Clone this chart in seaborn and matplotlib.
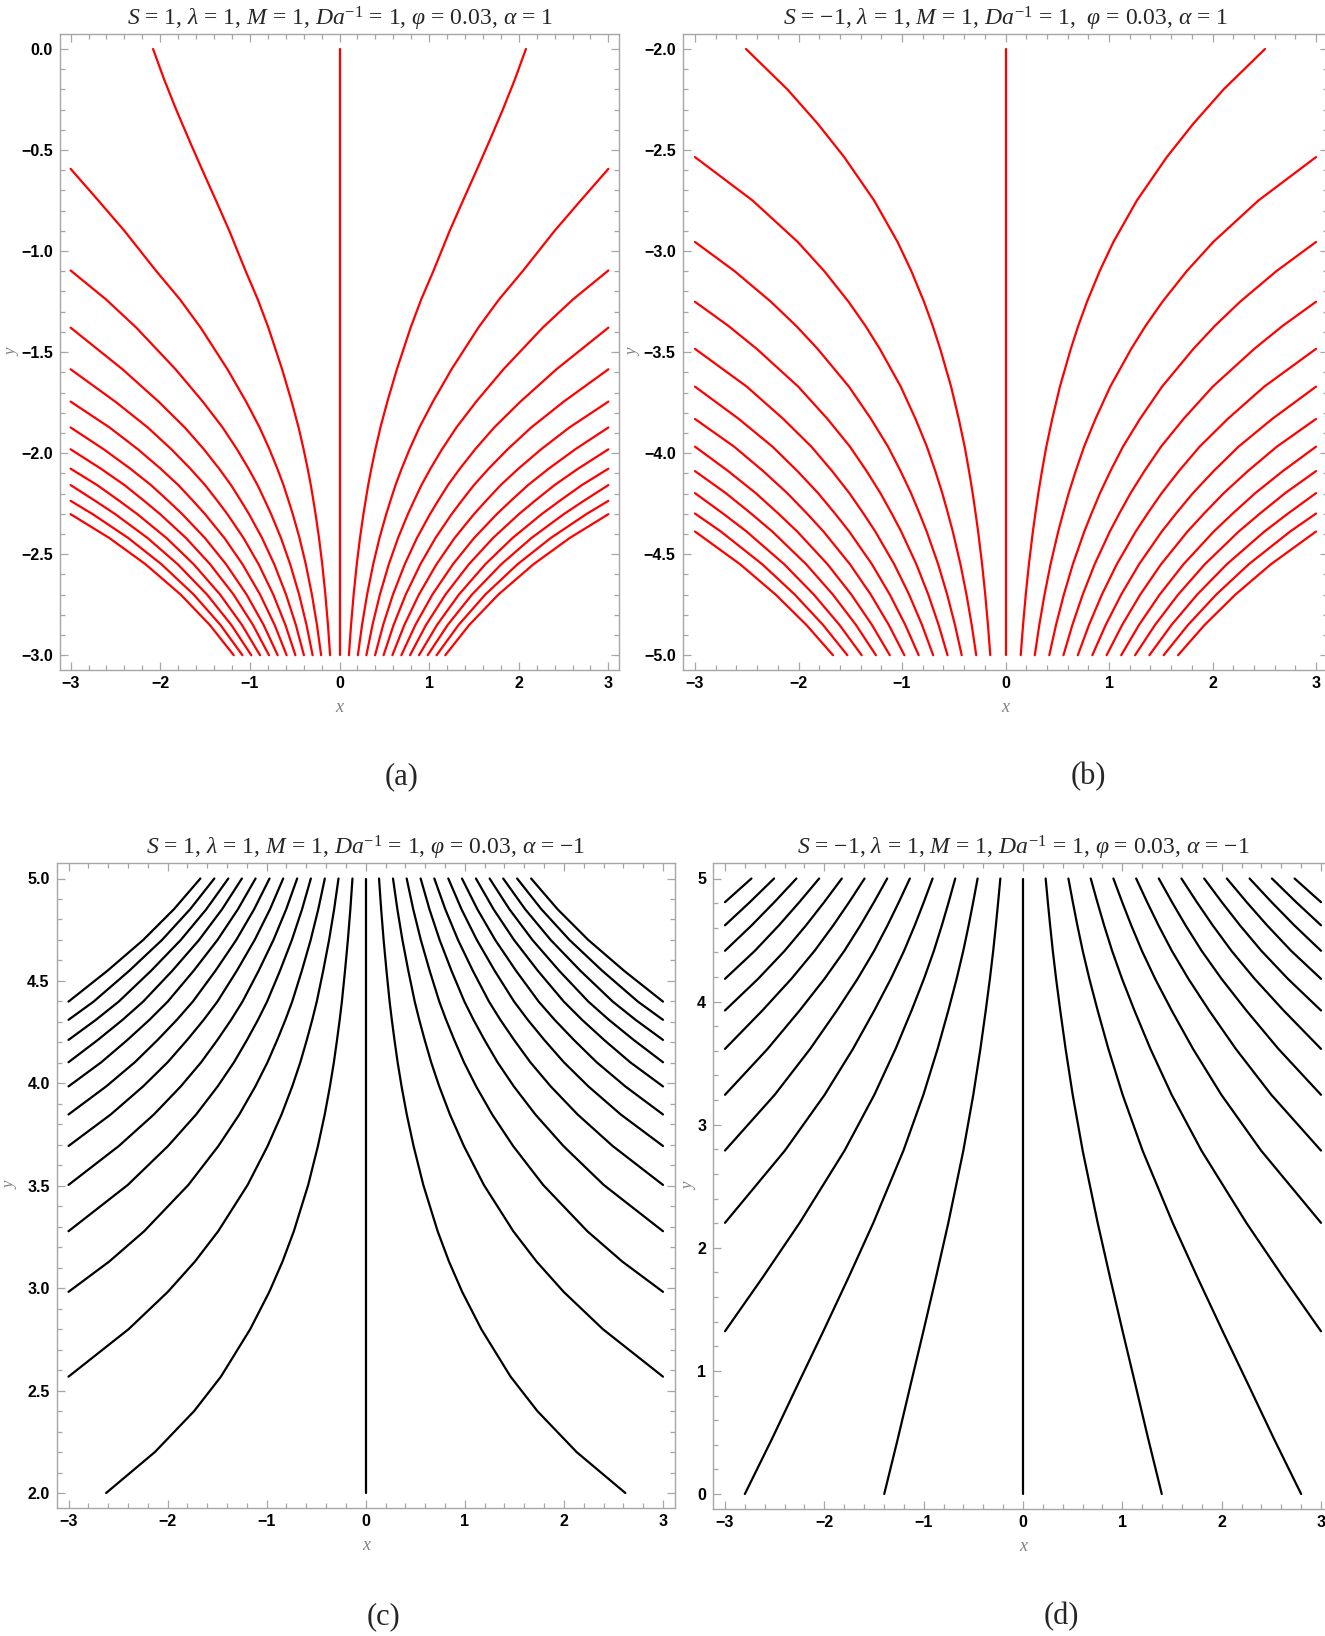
import numpy as np
import pandas as pd
import matplotlib
matplotlib.use("Agg")
import matplotlib.pyplot as plt
import seaborn as sns
from matplotlib.ticker import MultipleLocator, FuncFormatter

# ---------------- data ----------------
# Right-half streamlines; the left half is the mirror image, plus the x = 0 line.
# (a) S=1, alpha=1 : streamlines start at y = -3
A_X0 = [0.105, 0.205, 0.300, 0.397, 0.492, 0.590, 0.690, 0.787, 0.887, 0.984, 1.083, 1.180]
A_END_X = [2.08]            # innermost line reaches y = 0 at this x
A_EXIT_Y = [-0.593, -1.096, -1.379, -1.585, -1.745, -1.873, -1.981, -2.077, -2.158, -2.236, -2.302]
A_INNER_Y = [-0.15, -0.30, -0.45, -0.75, -0.90, -1.24]     # extra points on innermost line
A_INNER_X = [1.957, 1.822, 1.678, 1.378, 1.229, 0.911]
A_OUTER_Y = [-2.85, -2.70, -2.55, -2.42]                   # extra points on outermost line
A_OUTER_X = [1.448, 1.772, 2.164, 2.568]

# (b) S=-1, alpha=1 : streamlines start at y = -5
B_X0 = [0.147, 0.283, 0.423, 0.560, 0.699, 0.839, 0.977, 1.118, 1.252, 1.390, 1.528, 1.667]
B_END_X = [2.507]           # innermost line reaches y = -2 here
B_EXIT_Y = [-2.535, -2.955, -3.251, -3.484, -3.671, -3.831, -3.968, -4.089, -4.198, -4.299, -4.388]
B_INNER_Y = [-2.20, -2.37, -2.75, -3.10, -3.37]
B_INNER_X = [2.107, 1.814, 1.269, 0.909, 0.703]
B_OUTER_Y = [-4.85, -4.70, -4.55]
B_OUTER_X = [1.924, 2.221, 2.564]

# (c) S=1, alpha=-1 : streamlines start at y = 5
C_X0 = [0.134, 0.275, 0.413, 0.554, 0.692, 0.833, 0.971, 1.112, 1.250, 1.387, 1.528, 1.669]
C_END_X = [2.62]            # innermost line reaches y = 2 here
C_EXIT_Y = [2.568, 2.982, 3.278, 3.504, 3.694, 3.848, 3.985, 4.103, 4.212, 4.310, 4.399]
C_INNER_Y = [2.20, 2.40, 2.80, 3.13]
C_INNER_X = [2.128, 1.732, 1.166, 0.840]
C_OUTER_Y = [4.85, 4.70, 4.55]
C_OUTER_X = [1.936, 2.246, 2.606]

# (d) S=-1, alpha=-1 : streamlines start at y = 5
D_X0 = [0.228, 0.457, 0.682, 0.910, 1.139, 1.367, 1.595, 1.824, 2.052, 2.281, 2.506, 2.734]
D_END_X = [1.397, 2.798]    # two innermost lines reach y = 0 here
D_EXIT_Y = [1.322, 2.203, 2.790, 3.243, 3.616, 3.928, 4.185, 4.413, 4.620, 4.808]
D_INNER_Y = [0.45, 0.90, 1.76]
D_INNER_X = [1.260, 1.128, 0.876]
D_OUTER_Y = []
D_OUTER_X = []

TITLES = [
    r"$S$ = 1, $\lambda$ = 1, $M$ = 1, $Da^{\mathit{-1}}$ = 1, $\varphi$ = 0.03, $\alpha$ = 1",
    r"$S$ = −1, $\lambda$ = 1, $M$ = 1, $Da^{\mathit{-1}}$ = 1,  $\varphi$ = 0.03, $\alpha$ = 1",
    r"$S$ = 1, $\lambda$ = 1, $M$ = 1, $Da^{\mathit{-1}}$ = 1, $\varphi$ = 0.03, $\alpha$ = −1",
    r"$S$ = −1, $\lambda$ = 1, $M$ = 1, $Da^{\mathit{-1}}$ = 1, $\varphi$ = 0.03, $\alpha$ = −1",
]
PANEL_LABELS = ["(a)", "(b)", "(c)", "(d)"]
X_TICKS = [-3, -2, -1, 0, 1, 2, 3]


def streamlines(x0, base_y, end_y, end_x, exit_y, inner, outer, x_edge=3.0):
    knots = [(base_y, 1.0), (end_y, end_x[0] / x0[0])]
    n_end = len(end_x)
    for k, ye in enumerate(exit_y):
        knots.append((ye, x_edge / x0[n_end + k]))
    for y, x in zip(*inner):
        knots.append((y, x / x0[0]))
    for y, x in zip(*outer):
        knots.append((y, x / x0[-1]))
    knots.sort(key=lambda t: t[0], reverse=(base_y > end_y))
    rows = []
    uid = 0
    for xs in x0:
        pts = [(xs * g, y) for (y, g) in knots if xs * g <= x_edge + 1e-6]
        for sign in (1, -1):
            for (x, y) in pts:
                rows.append({"x": sign * x, "y": y, "uid": uid})
            uid += 1
    rows.append({"x": 0.0, "y": base_y, "uid": uid})
    rows.append({"x": 0.0, "y": end_y, "uid": uid})
    return pd.DataFrame(rows)


PANELS = [
    dict(df=streamlines(A_X0, -3.0, 0.0, A_END_X, A_EXIT_Y, (A_INNER_Y, A_INNER_X), (A_OUTER_Y, A_OUTER_X)),
         color="#ff0000", yl=(-3.0, 0.0), ymaj=0.5, ymin=0.1, yfmt="{:.1f}", ylab_off=47,
         anchor=((-3, 70.6), (3, 608.4), (0.0, 49.0), (-3.0, 655.2))),
    dict(df=streamlines(B_X0, -5.0, -2.0, B_END_X, B_EXIT_Y, (B_INNER_Y, B_INNER_X), (B_OUTER_Y, B_OUTER_X)),
         color="#ff0000", yl=(-5.0, -2.0), ymaj=0.5, ymin=0.1, yfmt="{:.1f}", ylab_off=49,
         anchor=((-3, 695.0), (3, 1316.0), (-2.0, 49.0), (-5.0, 655.2))),
    dict(df=streamlines(C_X0, 5.0, 2.0, C_END_X, C_EXIT_Y, (C_INNER_Y, C_INNER_X), (C_OUTER_Y, C_OUTER_X)),
         color="#000000", yl=(2.0, 5.0), ymaj=0.5, ymin=0.1, yfmt="{:.1f}", ylab_off=46,
         anchor=((-3, 68.5), (3, 663.0), (5.0, 878.5), (2.0, 1493.0))),
    dict(df=streamlines(D_X0, 5.0, 0.0, D_END_X, D_EXIT_Y, (D_INNER_Y, D_INNER_X), (D_OUTER_Y, D_OUTER_X)),
         color="#000000", yl=(0.0, 5.0), ymaj=1.0, ymin=0.2, yfmt="{:.0f}", ylab_off=24,
         anchor=((-3, 725.0), (3, 1321.0), (5.0, 878.5), (0.0, 1494.0))),
]

W, H = 1325, 1636
sns.set_theme(style="ticks")
plt.rcParams["font.family"] = ["Liberation Serif", "DejaVu Serif"]
plt.rcParams["mathtext.fontset"] = "custom"
plt.rcParams["mathtext.rm"] = "Liberation Serif"
plt.rcParams["mathtext.it"] = "Liberation Serif:italic"
plt.rcParams["mathtext.bf"] = "Liberation Serif:bold"

fig = plt.figure(figsize=(W / 100, H / 100), dpi=100)
FRAME = "#a6a6a6"


def minus(fmt):
    return FuncFormatter(lambda v, p: fmt.format(v).replace("-", "\u2212"))


for i, P in enumerate(PANELS):
    (xa, pxa), (xb, pxb), (ya, pya), (yb, pyb) = P["anchor"]
    sx = (pxb - pxa) / (xb - xa)
    sy = (pyb - pya) / (yb - ya)  # negative (pixels grow downward)
    xlim = (-3.12, 3.12)
    y0, y1 = P["yl"]
    pad = 0.025 * (y1 - y0)
    ylim = (y0 - pad, y1 + pad)
    left = pxa + (xlim[0] - xa) * sx
    right = pxa + (xlim[1] - xa) * sx
    top = pya + (ylim[1] - ya) * sy
    bottom = pya + (ylim[0] - ya) * sy
    ax = fig.add_axes([left / W, 1 - bottom / H, (right - left) / W, (bottom - top) / H])

    sns.lineplot(data=P["df"], x="x", y="y", units="uid", estimator=None, sort=False,
                 color=P["color"], linewidth=1.6, ax=ax, legend=False)
    ax.set_xlim(*xlim)
    ax.set_ylim(*ylim)

    ax.set_xticks(X_TICKS)
    ax.xaxis.set_major_formatter(minus("{:.0f}"))
    ax.xaxis.set_minor_locator(MultipleLocator(0.2))
    ax.yaxis.set_major_locator(MultipleLocator(P["ymaj"]))
    ax.yaxis.set_minor_locator(MultipleLocator(P["ymin"]))
    ax.yaxis.set_major_formatter(minus(P["yfmt"]))
    ax.tick_params(which="both", direction="in", top=True, right=True,
                   color=FRAME, width=0.9)
    ax.tick_params(which="major", length=6)
    ax.tick_params(which="minor", length=3.5)
    ax.tick_params(axis="y", which="major", pad=5)
    ax.tick_params(axis="x", which="major", pad=4)
    for lab in ax.get_xticklabels() + ax.get_yticklabels():
        lab.set_fontfamily("Liberation Sans")
        lab.set_fontweight("bold")
        lab.set_fontsize(11.5)
        lab.set_color("black")
    for s in ax.spines.values():
        s.set_color(FRAME)
        s.set_linewidth(1.0)

    wpx, hpx = right - left, bottom - top
    ax.set_xlabel("x", fontsize=13, fontstyle="italic", color="#808080", va="center")
    ax.set_ylabel("y", fontsize=12, fontstyle="italic", color="#808080", va="center")
    ax.xaxis.set_label_coords(0.5, -37 / hpx)
    ax.yaxis.set_label_coords(-P["ylab_off"] / wpx, 0.5)
    ax.set_title(TITLES[i], fontsize=17, pad=6)

# panel labels
fig.text(401.7 / W, 1 - 777 / H, PANEL_LABELS[0], ha="center", va="center", fontsize=22)
fig.text(1088 / W, 1 - 777 / H, PANEL_LABELS[1], ha="center", va="center", fontsize=22)
fig.text(383 / W, 1 - 1617 / H, PANEL_LABELS[2], ha="center", va="center", fontsize=22)
fig.text(1061 / W, 1 - 1617 / H, PANEL_LABELS[3], ha="center", va="center", fontsize=22)

fig.savefig("out.png", dpi=100, facecolor="white")
